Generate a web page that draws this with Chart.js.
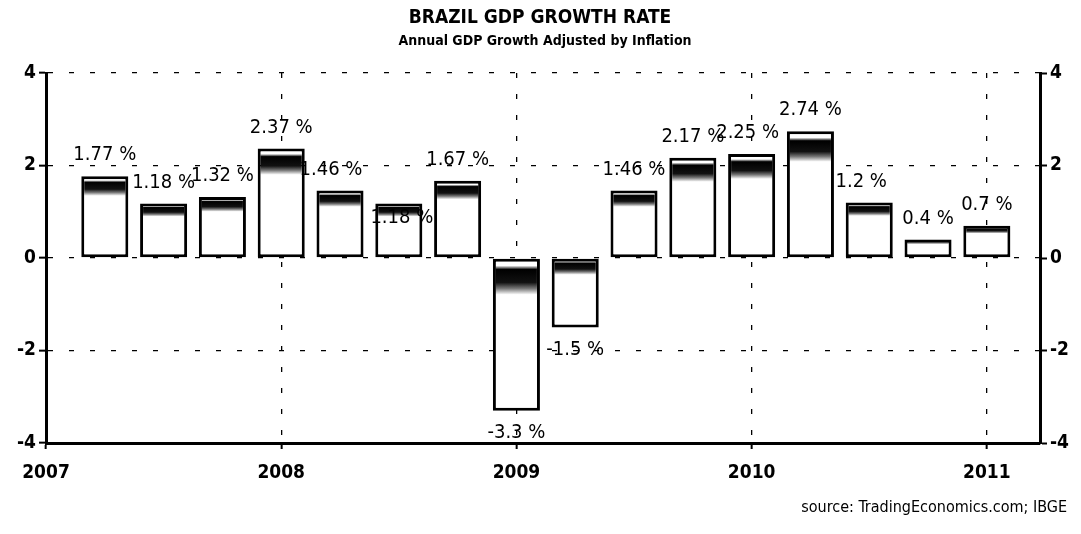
<!DOCTYPE html>
<html>
<head>
<meta charset="utf-8">
<script src="https://cdn.jsdelivr.net/npm/chart.js@4.4.1/dist/chart.umd.min.js"></script>
<style>
html,body{margin:0;padding:0;background:#fff;}
#wrap{width:1081px;height:534px;position:relative;}
</style>
</head>
<body>
<div id="wrap"><canvas id="c" width="1081" height="534"></canvas></div>
<script>
// ---- data ----
const quarters = ['2007 Q1','2007 Q2','2007 Q3','2007 Q4','2008 Q1','2008 Q2','2008 Q3','2008 Q4',
                  '2009 Q1','2009 Q2','2009 Q3','2009 Q4','2010 Q1','2010 Q2','2010 Q3','2010 Q4'];
const quarterEnd = [2007.25,2007.5,2007.75,2008.0,2008.25,2008.5,2008.75,2009.0,
                    2009.25,2009.5,2009.75,2010.0,2010.25,2010.5,2010.75,2011.0];
const growth = [1.77,1.18,1.32,2.37,1.46,1.18,1.67,-3.3,-1.5,1.46,2.17,2.25,2.74,1.2,0.4,0.7];
const yearTicks = [2007,2008,2009,2010,2011];
const yearLabels = ['2007','2008','2009','2010','2011'];
const yTicks = [-4,-2,0,2,4];
const yTickLabels = ['-4','-2','0','2','4'];
const titleText = 'BRAZIL GDP GROWTH RATE';
const subtitleText = 'Annual GDP Growth Adjusted by Inflation';
const sourceText = 'source: TradingEconomics.com; IBGE';

const FONT = '"DejaVu Sans Condensed","Liberation Sans Narrow","Roboto Condensed","DejaVu Sans",sans-serif';
const labelNudge = {4:[-9,0], 5:[3,35], 11:[-4,0], 13:[-8,0]};

const textPlugin = {
  id: 'texts',
  afterDatasetsDraw(chart) {
    const c = chart.ctx;
    const meta = chart.getDatasetMeta(0);
    c.save();
    c.fillStyle = '#000';
    c.font = '20px ' + FONT;
    c.textAlign = 'center';
    c.textBaseline = 'middle';
    meta.data.forEach((el, i) => {
      const v = growth[i];
      const n = labelNudge[i] || [0, 0];
      const y = v >= 0 ? el.y - 21 : el.y + 22;
      c.fillText(v + ' %', el.x + n[0], y + n[1]);
    });
    c.restore();
  },
  afterDraw(chart) {
    const c = chart.ctx;
    c.save();
    c.fillStyle = '#000';
    c.textAlign = 'center';
    c.textBaseline = 'middle';
    c.font = 'bold 19px ' + FONT;
    c.fillText(titleText, 540, 18);
    c.font = 'bold 14px ' + FONT;
    c.fillText(subtitleText, 545, 41);
    c.textAlign = 'right';
    c.font = '16px ' + FONT;
    c.fillText(sourceText, 1067, 508);
    c.restore();
  }
};

function barFill(ctx) {
  if (ctx.type !== 'data') return '#fff';
  const ch = ctx.chart;
  const ys = ch.scales.y;
  if (!ys || ys.top === undefined) return '#fff';
  const v = ctx.parsed ? ctx.parsed.y : ctx.raw.y;
  const p0 = ys.getPixelForValue(0), pv = ys.getPixelForValue(v);
  const s = Math.min(p0, pv), e = Math.max(p0, pv);
  if (!isFinite(s) || e - s < 1) return '#fff';
  const g = ch.ctx.createLinearGradient(0, s, 0, e);
  g.addColorStop(0, '#fff');
  g.addColorStop(0.05, '#fff');
  g.addColorStop(0.075, '#000');
  g.addColorStop(0.16, '#111');
  g.addColorStop(0.2, '#777');
  g.addColorStop(0.24, '#fff');
  g.addColorStop(1, '#fff');
  return g;
}

const tickFont = {family: FONT, size: 19, weight: 'bold'};

new Chart(document.getElementById('c'), {
  type: 'bar',
  data: {
    datasets: [{
      label: 'GDP growth',
      data: quarterEnd.map((x, i) => ({x: x, y: growth[i], q: quarters[i]})),
      backgroundColor: barFill,
      borderColor: '#000',
      borderWidth: 3,
      borderSkipped: false,
      barPercentage: 0.8,
      categoryPercentage: 1.0,
      yAxisID: 'y'
    }]
  },
  options: {
    responsive: false,
    animation: false,
    layout: {padding: {top: 73, left: 0, right: 0, bottom: 0}},
    plugins: {legend: {display: false}, tooltip: {enabled: false}, title: {display: false}},
    scales: {
      x: {
        type: 'linear', min: 2007, max: 2011.226, offset: false,
        afterBuildTicks: s => { s.ticks = yearTicks.map(v => ({value: v})); },
        ticks: {
          callback: v => yearLabels[yearTicks.indexOf(v)],
          font: tickFont, color: '#000', padding: 13, maxRotation: 0, autoSkip: false
        },
        grid: {offset: false, color: '#000', lineWidth: 1.3, tickLength: 6, tickWidth: 2, tickColor: '#000', tickBorderDash: []},
        border: {display: true, width: 3, color: '#000', dash: [5, 16]},
        afterFit: s => { s.height = 91; }
      },
      y: {
        position: 'left', min: -4, max: 4,
        afterBuildTicks: s => { s.ticks = yTicks.map(v => ({value: v})); },
        ticks: {callback: v => yTickLabels[yTicks.indexOf(v)], font: tickFont, color: '#000', padding: 3},
        grid: {color: '#000', lineWidth: 1.3, tickLength: 7, tickWidth: 2, tickColor: '#000', tickBorderDash: []},
        border: {display: true, width: 3, color: '#000', dash: [5, 16]},
        afterFit: s => { s.width = 46; }
      },
      y2: {
        position: 'right', min: -4, max: 4,
        afterBuildTicks: s => { s.ticks = yTicks.map(v => ({value: v})); },
        ticks: {callback: v => yTickLabels[yTicks.indexOf(v)], font: tickFont, color: '#000', padding: 3},
        grid: {drawOnChartArea: false, tickLength: 7, tickWidth: 2, tickColor: '#000', tickBorderDash: []},
        border: {display: true, width: 3, color: '#000'},
        afterFit: s => { s.width = 41; }
      }
    }
  },
  plugins: [textPlugin]
});
</script>
</body>
</html>
